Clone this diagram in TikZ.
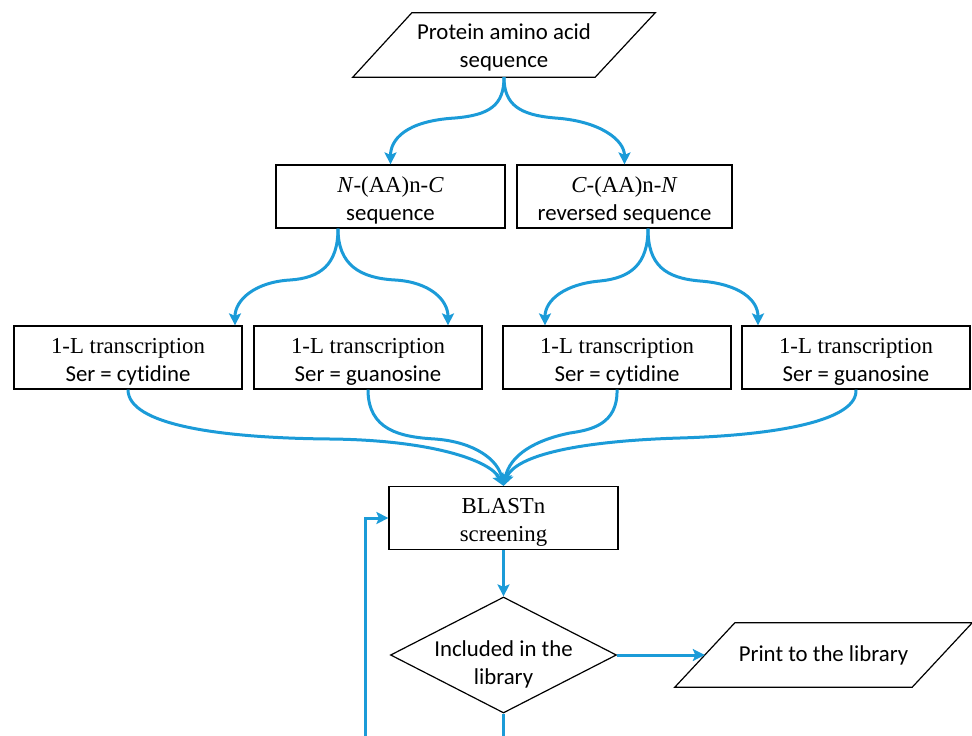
\documentclass[tikz,border=0pt]{standalone}
\usepackage{fontspec}
\setmainfont{Liberation Serif}
\setsansfont[Ligatures=NoCommon]{Carlito}
\usetikzlibrary{arrows.meta,shapes.geometric}
\definecolor{flowblue}{RGB}{27,155,216}
\tikzset{
  boxnode/.style={draw, line width=1.2pt, minimum width=228pt, minimum height=63pt, align=center, inner sep=2pt, text height=52.5pt, font=\fontsize{22.8}{28}\selectfont},
  ionode/.style={minimum width=242pt, minimum height=64pt, align=center, inner sep=0pt, font=\fontsize{22.8}{28}\selectfont\sffamily},
  flow/.style={draw=flowblue, line width=3pt, -{Stealth[length=12pt,width=12pt,inset=2.5pt]}},
  flowline/.style={draw=flowblue, line width=3pt},
}
\begin{document}
\begin{tikzpicture}[x=1pt,y=1pt,yscale=-1]
\useasboundingbox (0,0) rectangle (972,736);

% Text Node
\node[ionode, text height=49pt] (inp) at (504,45) {Protein amino acid\\sequence};
%Shape: Parallelogram
\draw[line width=1.2pt] ([xshift=-30pt]inp.south west) -- ([xshift=29pt]inp.north west) -- ([xshift=30pt]inp.north east) -- ([xshift=-30pt]inp.south east) -- cycle;

% Text Node
\node[boxnode, minimum width=229pt] (fwd) at (390.5,196.5) {\textit{N}-(AA)n-\textit{C}\\{\sffamily sequence}};
% Text Node
\node[boxnode, minimum width=215pt] (rev) at (624.5,196.5) {\textit{C}-(AA)n-\textit{N}\\{\sffamily reversed sequence}};

% Text Node
\node[boxnode] (tra) at (128,357.5) {1-L transcription\\{\sffamily Ser = cytidine}};
\node[boxnode] (trb) at (368,357.5) {1-L transcription\\{\sffamily Ser = guanosine}};
\node[boxnode] (trc) at (617,357.5) {1-L transcription\\{\sffamily Ser = cytidine}};
\node[boxnode] (trd) at (856,357.5) {1-L transcription\\{\sffamily Ser = guanosine}};

% Text Node
\node[boxnode, minimum width=229pt] (blast) at (503.5,518) {BLASTn\\screening};
% Text Node
\node[draw, diamond, shape aspect=1.95, line width=1.2pt, minimum width=226pt, minimum height=116pt, inner sep=-8pt, align=center, text height=62pt, font=\fontsize{22.8}{28}\selectfont\sffamily] (dec) at (503.5,655) {Included in the\\library};
% Text Node
\node[ionode, minimum width=237pt] (prt) at (823.5,655) {Print to the library};
%Shape: Parallelogram
\draw[line width=1.2pt] ([xshift=-30pt]prt.south west) -- ([xshift=30pt]prt.north west) -- ([xshift=30pt]prt.north east) -- ([xshift=-30pt]prt.south east) -- cycle;

\coordinate (decout) at (503.5,736);
\coordinate (fbin) at (365,736);

%Curve Lines
\draw[flow] (inp.south) .. controls (504,105) and (490,115) .. (455,118) .. controls (405,121) and (390.5,140) .. (fwd.north);
\draw[flow] (inp.south) .. controls (504,105) and (520,115) .. (555,118) .. controls (600,121) and (624.5,140) .. (rev.north);

%Curve Lines
\draw[flow] ([xshift=-52.5pt]fwd.south) .. controls (338,265) and (320,278) .. (290,280) .. controls (255,282) and (235,300) .. ([xshift=107pt]tra.north);
\draw[flow] ([xshift=-52.5pt]fwd.south) .. controls (338,265) and (360,278) .. (395,280) .. controls (430,282) and (448,300) .. ([xshift=80pt]trb.north);
\draw[flow] ([xshift=23.5pt]rev.south) .. controls (648,265) and (630,278) .. (600,281) .. controls (565,284) and (545,300) .. ([xshift=-72pt]trc.north);
\draw[flow] ([xshift=23.5pt]rev.south) .. controls (648,265) and (665,278) .. (700,281) .. controls (740,284) and (758,300) .. ([xshift=-98pt]trd.north);

%Curve Lines
\draw[flow] (tra.south) .. controls (128,425) and (220,438) .. (330,439) .. controls (430,440) and (490,460) .. (blast.north);
\draw[flow] (trb.south) .. controls (368,430) and (400,437) .. (435,439) .. controls (475,442) and (498,460) .. (blast.north);
\draw[flow] (trc.south) .. controls (618,425) and (590,430) .. (570,433) .. controls (535,440) and (510,455) .. (blast.north);
\draw[flow] (trd.south) .. controls (858,420) and (780,435) .. (680,438) .. controls (580,441) and (515,455) .. (blast.north);

%Straight Lines
\draw[flow] (blast.south) -- (dec.north);
\draw[flow] (dec.east) -- (prt.west);
\draw[flowline] (dec.south) -- (decout);
\draw[flow] (fbin) |- (blast.west);

\end{tikzpicture}
\end{document}
